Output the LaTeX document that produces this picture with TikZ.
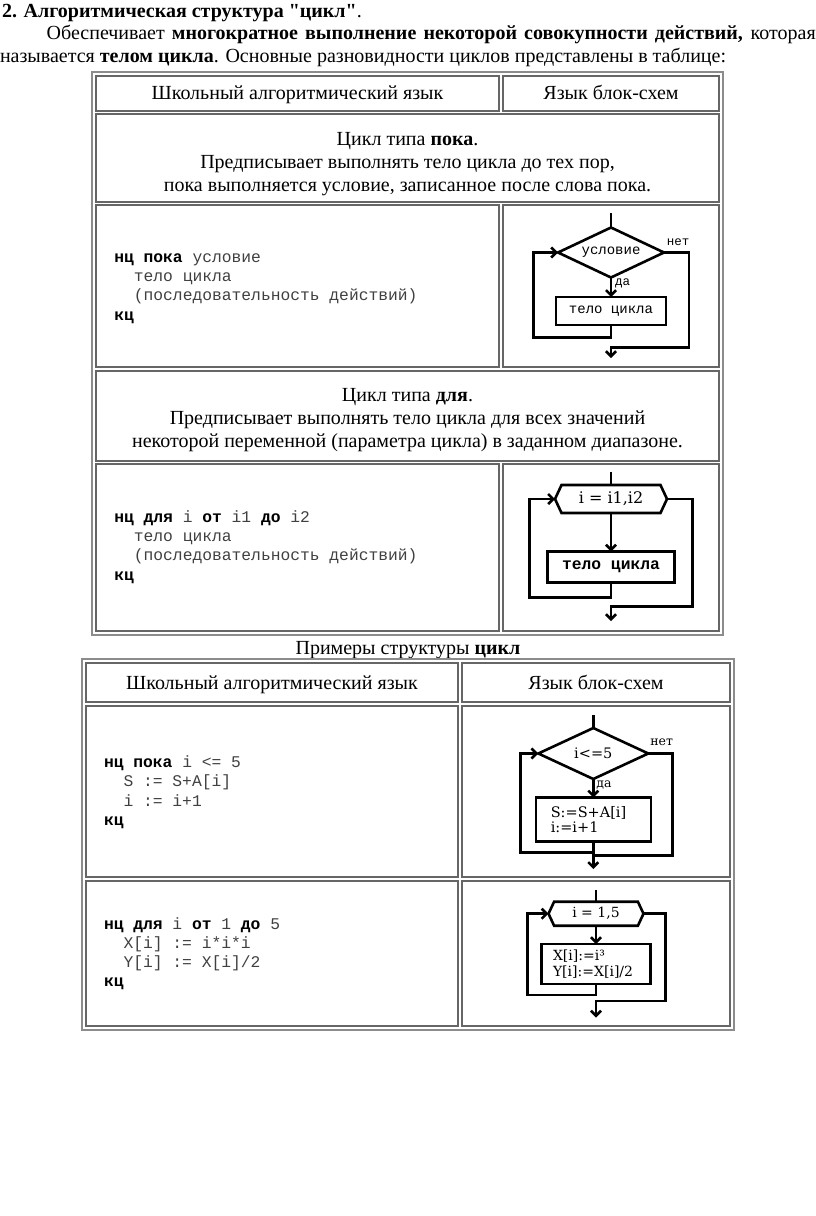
\documentclass[tikz,border=0pt]{standalone}
\usepackage{fontspec}
\setmainfont{Liberation Serif}[Ligatures=TeXOff]
\setmonofont{Liberation Mono}
\newfontfamily\blockfont{DejaVu Serif}
\usetikzlibrary{arrows.meta,shapes.geometric,shapes.symbols}
\newcommand{\kw}[1]{\textbf{\color{black}#1}}

\begin{document}
\begin{tikzpicture}[x=1pt,y=-1pt,>={Straight Barb[length=5pt,width=10pt]}]
\tikzstyle{every node}=[inner sep=0pt,outer sep=0pt]
\tikzstyle{txt}=[font=\fontsize{20}{23}\selectfont,align=center]
\tikzstyle{code}=[font=\fontsize{16.3}{19.3}\selectfont\ttfamily,align=left,anchor=west,text=black!75]
\tikzstyle{frame}=[draw=black!45,line width=1.2pt]
\tikzstyle{cell}=[draw=black!60,line width=1.2pt]
\tikzstyle{flow}=[line width=2.6pt]
\tikzstyle{blk}=[draw,line width=2.6pt,fill=white]
\tikzstyle{mono}=[font=\fontsize{14}{16}\selectfont\ttfamily]
\tikzstyle{serif}=[font=\fontsize{14.5}{15}\selectfont\blockfont,align=left]
\tikzstyle{lbl}=[font=\fontsize{12.5}{14}\selectfont\ttfamily]
\tikzstyle{hexa}=[blk,signal,signal to=west and east,signal pointer angle=130]
\useasboundingbox (0,0) rectangle (816,1216);

% heading
\node[txt,anchor=base west] (title) at (2,17.3) {\textbf{2. Алгоритмическая структура "цикл"}.};
\node[txt,anchor=base west] (intro) at (46.7,39.5) {\makebox[769pt][s]{Обеспечивает \textbf{многократное выполнение некоторой совокупности действий,} которая}};
\node[txt,anchor=base west] (intro2) at (0,62) {называется \textbf{телом цикла}. Основные разновидности циклов представлены в таблице:};

% first table
\draw[frame] (92,72) rectangle (723,635);
\draw[cell] (96,76) rectangle (499,111);
\draw[cell] (503,76) rectangle (719,111);
\draw[cell] (96,114) rectangle (719,202);
\draw[cell] (96,205) rectangle (499,367);
\draw[cell] (503,205) rectangle (719,367);
\draw[cell] (96,371) rectangle (719,461);
\draw[cell] (96,464) rectangle (499,631);
\draw[cell] (503,464) rectangle (719,631);
\node[txt,anchor=base] (lang1) at (297.5,99.5) {Школьный алгоритмический язык};
\node[txt,anchor=base] (chart1) at (611,99.5) {Язык блок-схем};
\node[txt] (whiletxt) at (407.5,164) {Цикл типа \textbf{пока}.\\Предписывает выполнять тело цикла до тех пор,\\пока выполняется условие, записанное после слова пока.};
\node[txt] (fortxt) at (407.5,420) {Цикл типа \textbf{для}.\\Предписывает выполнять тело цикла для всех значений\\некоторой переменной (параметра цикла) в заданном диапазоне.};
\node[code] (whilecode) at (114.3,288.3) {\kw{нц пока} условие\\\ \ тело цикла\\\ \ (последовательность действий)\\\kw{кц}};
\node[code] (forcode) at (114.3,547) {\kw{нц для} i \kw{от} i1 \kw{до} i2\\\ \ тело цикла\\\ \ (последовательность действий)\\\kw{кц}};

% while chart
\coordinate (in1) at (611,213);
\node[blk,diamond,aspect=2.1,minimum width=106,minimum height=50,mono] (cond1) at (611,252.5) {условие};
\node[blk,minimum width=110,minimum height=28,mono] (body1) at (611,311) {тело цикла};
\coordinate (back1) at (533.3,337.7);
\coordinate (turn1) at (689,347.3);
\coordinate (out1) at (611,358);
\node[lbl] (no1) at (678,242) {нет};
\draw[flow] (in1) -- (cond1.north);
\draw[flow,->] (cond1.south) -- (body1.north) node[lbl,pos=0.3,right=4pt] (yes1) {да};
\draw[flow,->] (body1.south) |- (back1) |- (cond1.west);
\draw[flow,->] (cond1.east) -| (turn1) -| (out1);

% for chart
\coordinate (in2) at (611,471.7);
\node[hexa,minimum width=112,minimum height=28,font=\fontsize{16}{18}\selectfont\blockfont] (range2) at (611,499) {i = i1,i2};
\node[blk,minimum width=127,minimum height=31,font=\fontsize{16.3}{18}\selectfont\ttfamily\bfseries] (body2) at (611,567) {тело цикла};
\coordinate (back2) at (529.3,597.7);
\coordinate (turn2) at (692.3,606.7);
\coordinate (out2) at (611,621);
\draw[flow] (in2) -- (range2.north);
\draw[flow,->] (range2.south) -- (body2.north);
\draw[flow,->] (body2.south) |- (back2) |- (range2.west);
\draw[flow,->] (range2.east) -| (turn2) -| (out2);

% examples
\node[txt,anchor=base] (examples) at (408,654) {Примеры структуры \textbf{цикл}};
\draw[frame] (82,659) rectangle (734,1030);
\draw[cell] (86,663) rectangle (458,702);
\draw[cell] (462,663) rectangle (730,702);
\draw[cell] (86,706) rectangle (458,877);
\draw[cell] (462,706) rectangle (730,877);
\draw[cell] (86,881) rectangle (458,1026);
\draw[cell] (462,881) rectangle (730,1026);
\node[txt,anchor=base] (lang2) at (272,689) {Школьный алгоритмический язык};
\node[txt,anchor=base] (chart2) at (596,689) {Язык блок-схем};
\node[code] (sumcode) at (104,792.2) {\kw{нц пока} i <= 5\\\ \ S := S+A[i]\\\ \ i := i+1\\\kw{кц}};
\node[code] (cubecode) at (104,953.7) {\kw{нц для} i \kw{от} 1 \kw{до} 5\\\ \ X[i] := i*i*i\\\ \ Y[i] := X[i]/2\\\kw{кц}};

% sum chart
\coordinate (in3) at (593.3,715);
\node[blk,diamond,aspect=2.1,minimum width=110,minimum height=51,serif] (cond3) at (593.3,753.5) {i<=5};
\node[blk,minimum width=115,minimum height=44,serif,text width=85] (body3) at (593.3,819.5) {S:=S+A[i]\\i:=i+1};
\coordinate (back3) at (520.7,852.7);
\coordinate (turn3) at (672.3,855.7);
\coordinate (out3) at (593.3,869);
\node[lbl,font=\fontsize{12.5}{14}\selectfont\blockfont] (no3) at (661.7,742.7) {нет};
\draw[flow] (in3) -- (cond3.north);
\draw[flow,->] (cond3.south) -- (body3.north) node[lbl,font=\fontsize{12.5}{14}\selectfont\blockfont,pos=0.3,right=3pt] (yes3) {да};
\draw[flow,->] (body3.south) |- (back3) |- (cond3.west);
\draw[flow,->] (cond3.east) -| (turn3) -| (out3);

% cube chart
\coordinate (in4) at (596,890);
\node[hexa,minimum width=95,minimum height=24,font=\fontsize{14}{15}\selectfont\blockfont] (range4) at (596,913.7) {i = 1,5};
\node[blk,minimum width=109,minimum height=40,serif,font=\fontsize{14}{16.7}\selectfont\blockfont,text width=86] (body4) at (596,964) {X[i]:=i³\\Y[i]:=X[i]/2};
\coordinate (back4) at (527.3,995);
\coordinate (turn4) at (665.7,1001);
\coordinate (out4) at (596,1017.5);
\draw[flow] (in4) -- (range4.north);
\draw[flow,->] (range4.south) -- (body4.north);
\draw[flow,->] (body4.south) |- (back4) |- (range4.west);
\draw[flow,->] (range4.east) -| (turn4) -| (out4);
\end{tikzpicture}
\end{document}
